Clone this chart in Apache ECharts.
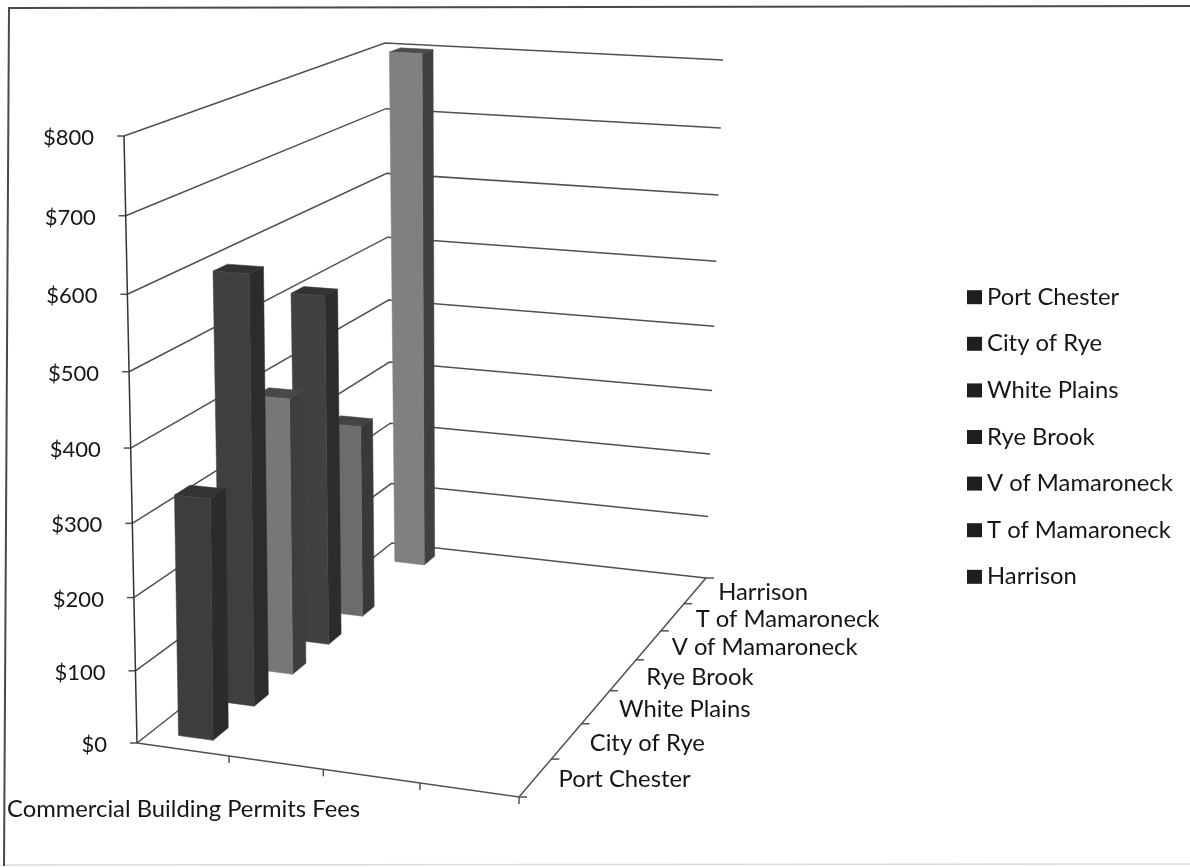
<!DOCTYPE html>
<html>
<head>
<meta charset="utf-8">
<style>html,body{margin:0;padding:0;background:#fff}#chart{width:1190px;height:867px}</style>
<script src="https://cdn.jsdelivr.net/npm/echarts@6/dist/echarts.min.js"></script>
</head>
<body>
<div id="chart"></div>
<script>
// Commercial building permit fees by municipality, as a perspective column chart.
const places = ['Port Chester', 'City of Rye', 'White Plains', 'Rye Brook', 'V of Mamaroneck', 'T of Mamaroneck', 'Harrison'];
const fees = [330, 598, 398, 514, 292, null, 800];
const feeTicks = [0, 100, 200, 300, 400, 500, 600, 700, 800];
const measureLabel = 'Commercial Building Permits Fees';
const frontFaces = ['#3d3d3d', '#3f3f3f', '#777777', '#414141', '#6c6c6c', '#6c6c6c', '#808080'];
const sideFaces = ['#2b2b2b', '#2c2c2c', '#3e3e3e', '#2c2c2c', '#393939', '#393939', '#404040'];
const topFaces = ['#333333', '#333333', '#484848', '#333333', '#444444', '#444444', '#4c4c4c'];

// Corners of the plot box: floor, then the plane at the top of the fee scale.
const floorQuad = [[137, 743], [519, 797], [706, 578], [392, 543]];
const roofQuad = [[124, 136], [530, 156], [723, 60], [385, 43]];
const TEXT_FONT = '23.8px Lato';
const TICK_FONT = '22px Lato';
const SLOTS = 4;                 // column slots along the front edge
const BAR_U = [0.30, 0.68];      // column extent across a slot
const BAR_D = [-0.18, 0.18];     // column extent around its depth position
const ROOF_WEIGHT = 0.945;       // perspective weight of the roof plane

function quadMap(q) {
  const [p0, p1, p2, p3] = q;
  const dx1 = p1[0] - p2[0], dx2 = p3[0] - p2[0], sx = p0[0] - p1[0] + p2[0] - p3[0];
  const dy1 = p1[1] - p2[1], dy2 = p3[1] - p2[1], sy = p0[1] - p1[1] + p2[1] - p3[1];
  const den = dx1 * dy2 - dx2 * dy1;
  const g = (sx * dy2 - dx2 * sy) / den, h = (dx1 * sy - sx * dy1) / den;
  const a = p1[0] - p0[0] + g * p1[0], b = p3[0] - p0[0] + h * p3[0];
  const d = p1[1] - p0[1] + g * p1[1], e = p3[1] - p0[1] + h * p3[1];
  return (u, v) => {
    const w = g * u + h * v + 1;
    return [(a * u + b * v + p0[0]) / w, (d * u + e * v + p0[1]) / w];
  };
}
const floorAt = quadMap(floorQuad);
const roofAt = quadMap(roofQuad);

// u: slots along the front edge, d: places front to back, t: share of the fee scale.
function project(u, d, t) {
  const a = floorAt(u / SLOTS, d / places.length);
  const b = roofAt(u / SLOTS, d / places.length);
  const wa = 1 - t, wb = t * ROOF_WEIGHT, sum = wa + wb;
  return [(a[0] * wa + b[0] * wb) / sum, (a[1] * wa + b[1] * wb) / sum];
}

function poly(points, fill) {
  return { type: 'polygon', shape: { points }, style: { fill, stroke: fill, lineWidth: 0.5 } };
}
function line(points, color, width) {
  return { type: 'polyline', shape: { points }, style: { fill: 'none', stroke: color || '#505050', lineWidth: width || 1.5 } };
}
function label(text, x, y, align, font) {
  return { type: 'text', style: { text, x, y, font: font || TEXT_FONT, fill: '#161616', align: align || 'left', verticalAlign: 'middle' } };
}

// One column, placed through the category and value axes of the grid.
function renderColumn(params, api) {
  const value = api.value(1);
  if (value == null || isNaN(value)) return null;
  const i = api.value(0);
  const cs = params.coordSys;
  const c = api.coord([i, value]);
  const dMid = (c[0] - cs.x) / cs.width * places.length;
  const t = (cs.y + cs.height - c[1]) / cs.height;
  const [u0, u1] = BAR_U, d0 = dMid + BAR_D[0], d1 = dMid + BAR_D[1];
  return {
    type: 'group',
    children: [
      poly([project(u1, d0, 0), project(u1, d1, 0), project(u1, d1, t), project(u1, d0, t)], sideFaces[i]),
      poly([project(u0, d0, t), project(u1, d0, t), project(u1, d1, t), project(u0, d1, t)], topFaces[i]),
      poly([project(u0, d0, 0), project(u1, d0, 0), project(u1, d0, t), project(u0, d0, t)], frontFaces[i])
    ]
  };
}

// Walls, gridlines, ticks and axis text of the box.
function renderFrame(params, api) {
  const cs = params.coordSys;
  const n = places.length;
  const kids = [];
  feeTicks.forEach((fee) => {
    const y = api.coord([0, fee])[1];
    const t = (cs.y + cs.height - y) / cs.height;
    const front = project(0, 0, t);
    kids.push(line([front, project(0, n, t), project(SLOTS, n, t)]));
    kids.push(line([[front[0] - 7, front[1]], front]));
    kids.push(label('$' + fee, front[0] - 30, front[1] + 2, 'right', TICK_FONT));
  });
  kids.push(line([project(0, 0, 1), project(0, 0, 0)], '#333333'));
  kids.push(line([project(0, 0, 0), project(SLOTS, 0, 0), project(SLOTS, n, 0)]));
  for (let u = 1; u <= SLOTS; u++) {
    const p = project(u, 0, 0);
    kids.push(line([p, [p[0], p[1] + 7]]));
  }
  for (let d = 0; d <= n; d++) {
    const p = project(SLOTS, d, 0);
    kids.push(line([p, [p[0] + 8, p[1]]]));
  }
  places.forEach((name, i) => {
    const p = project(SLOTS, i + 0.5, 0);
    kids.push(label(name, p[0] + 23, p[1] + 2));
  });
  kids.push(label(measureLabel, 7, 809));
  return { type: 'group', children: kids };
}

const chart = echarts.init(document.getElementById('chart'), null, { renderer: 'canvas' });
chart.setOption({
  animation: false,
  backgroundColor: '#ffffff',
  grid: { left: 137, top: 136, width: 570, height: 607 },
  xAxis: { type: 'category', data: places, show: false },
  yAxis: { type: 'value', min: 0, max: 800, interval: 100, show: false },
  legend: {
    orient: 'vertical', left: 967, top: 285, padding: 0,
    itemWidth: 15, itemHeight: 14, itemGap: 22.2, selectedMode: false,
    icon: 'rect',
    textStyle: { fontFamily: 'Lato', fontSize: 23.8, color: '#161616', lineHeight: 24.4 },
    data: places.map((name) => ({ name, itemStyle: { color: '#1e1e1e' } }))
  },
  graphic: [
    {
      type: 'polyline', z: 0, silent: true,
      shape: { points: [[4, 865], [1190, 864]] },
      style: { fill: 'none', stroke: '#dadada', lineWidth: 1.5 }
    },
    {
      type: 'polyline', z: 0, silent: true,
      shape: { points: [[4, 866], [9, 8], [1190, 6]] },
      style: { fill: 'none', stroke: '#4a4a4a', lineWidth: 2 }
    }
  ],
  series: [
    { type: 'custom', name: 'frame', z: 1, renderItem: renderFrame, data: [[0, 0]], silent: true }
  ].concat(places.map((name, i) => ({
    type: 'custom',
    name,
    z: 2 + places.length - i,
    renderItem: renderColumn,
    itemStyle: { color: frontFaces[i] },
    data: [[i, fees[i]]],
    silent: true
  })))
});
</script>
</body>
</html>
